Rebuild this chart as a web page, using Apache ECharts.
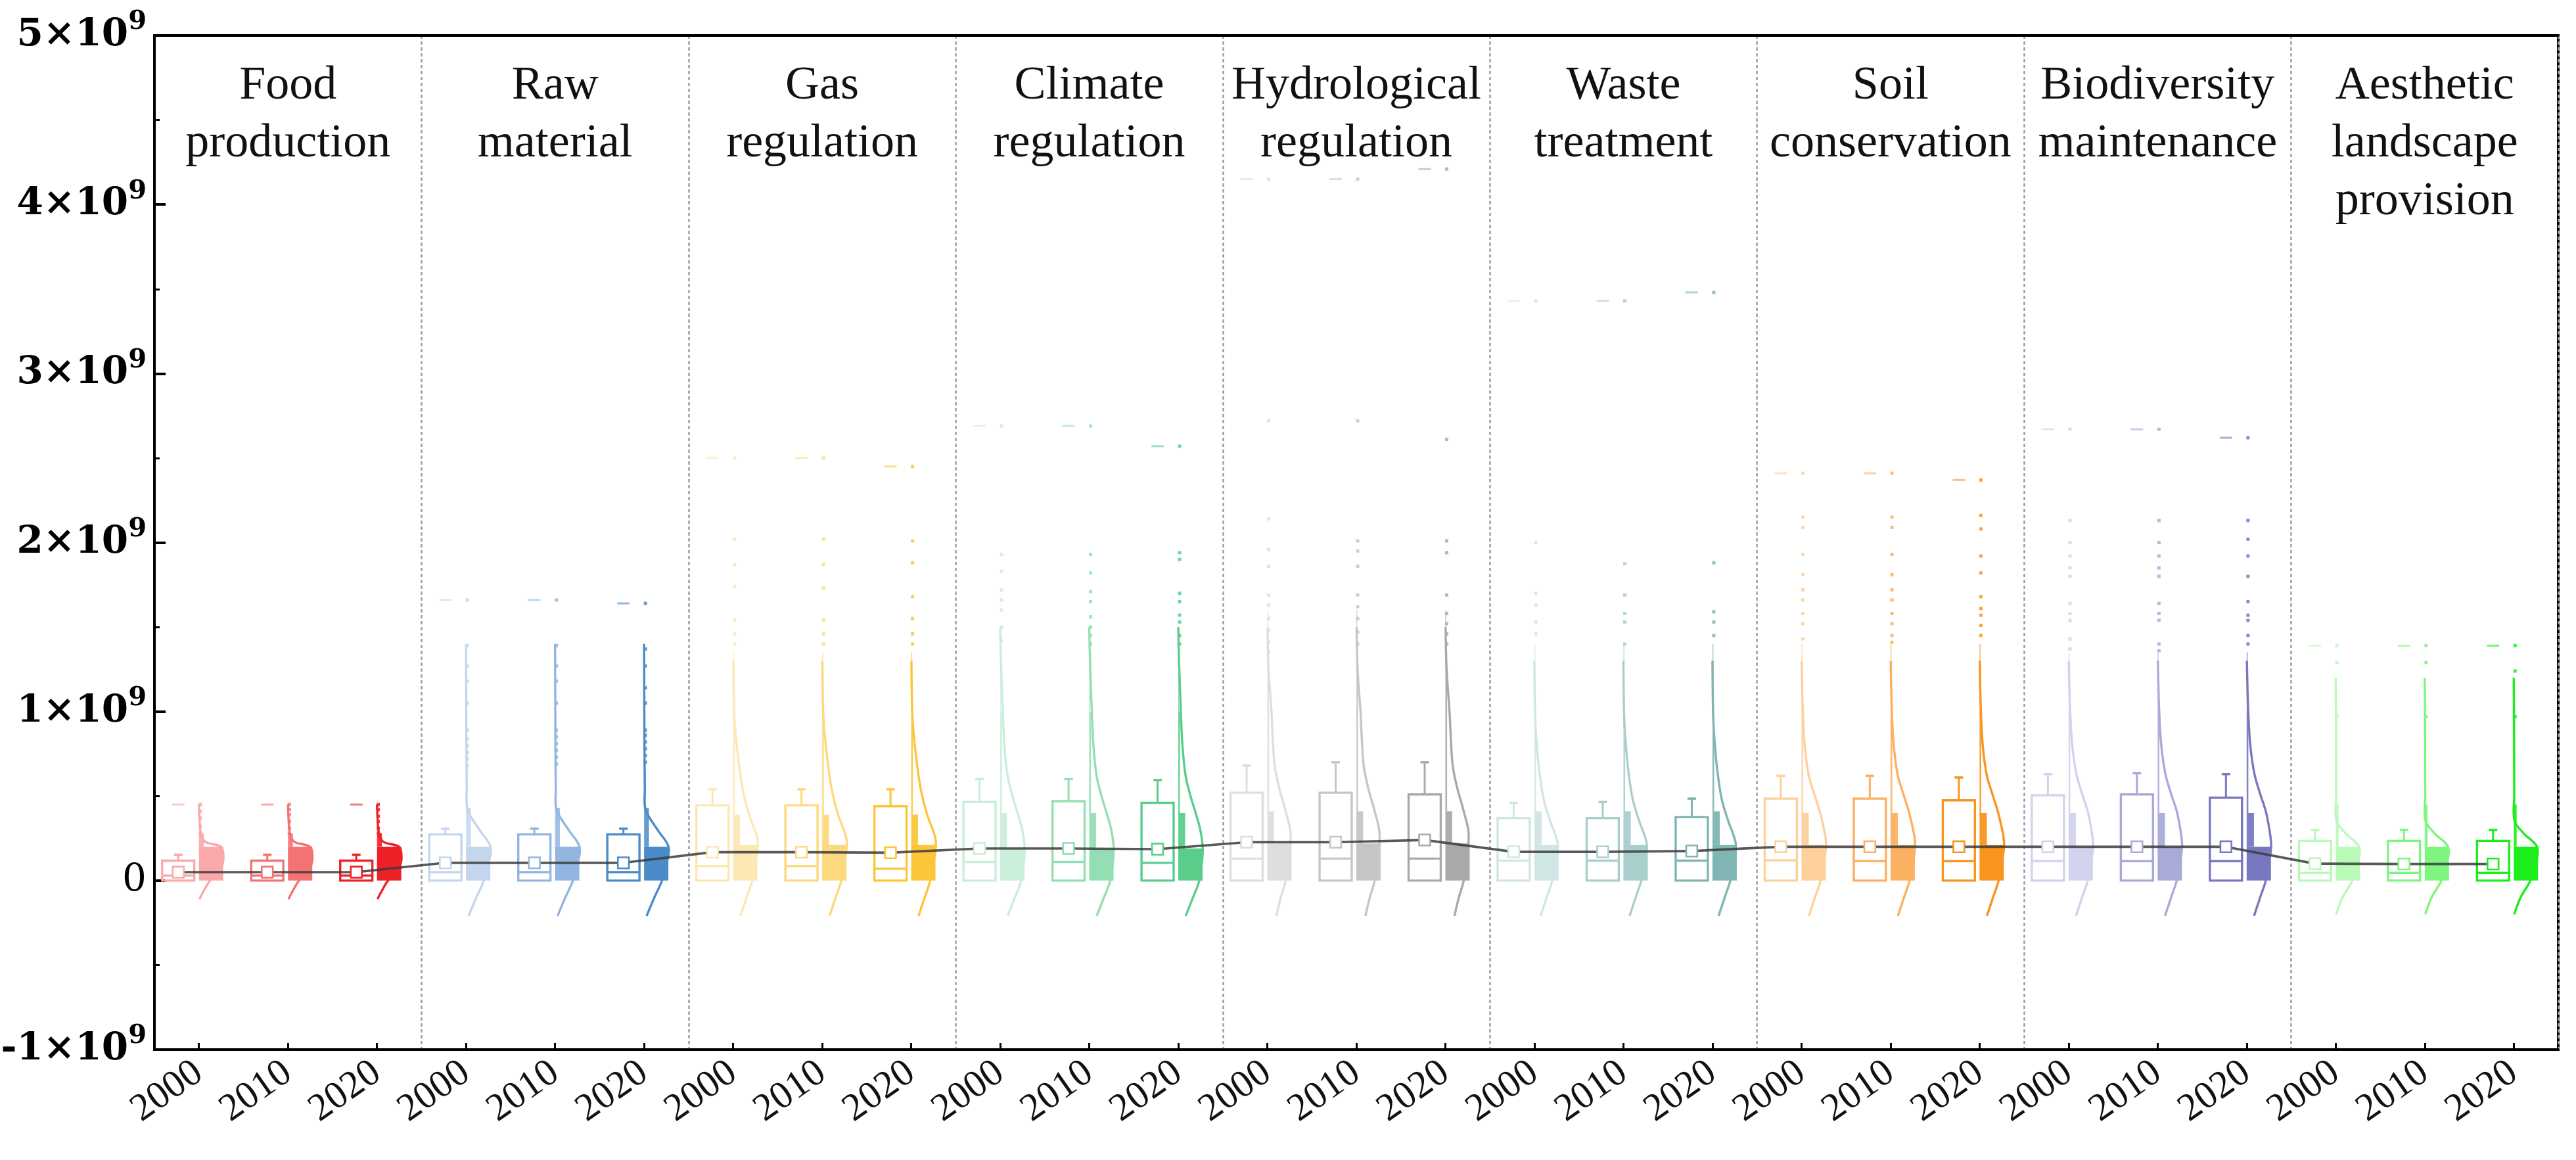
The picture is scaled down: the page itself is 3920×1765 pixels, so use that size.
<!DOCTYPE html>
<html><head><meta charset="utf-8">
<script src="https://cdn.jsdelivr.net/npm/echarts@6/dist/echarts.min.js"></script>
<style>html,body{margin:0;padding:0;background:#fff}#c{width:3920px;height:1765px}</style>
</head><body><div id="c"></div>
<script>
// ---------------- data (values in units of 1e9) ----------------
const groupNames = ['Food\nproduction','Raw\nmaterial','Gas\nregulation','Climate\nregulation','Hydrological\nregulation','Waste\ntreatment','Soil\nconservation','Biodiversity\nmaintenance','Aesthetic\nlandscape\nprovision'];
const years = ['2000','2010','2020'];
const groupColors = [
  ['#f9a9a9','#f47272','#ee2027'],
  ['#c3d6ee','#92b6e0','#4b8bc9'],
  ['#fde8b4','#fdd97d','#fcc63a'],
  ['#c9eed9','#93dfb3','#5bcd8b'],
  ['#dedede','#c6c6c6','#a9a9a9'],
  ['#d0e6e4','#a9cfcd','#7fb5b2'],
  ['#fdd09c','#fbb062','#f8951f'],
  ['#d2d2ee','#aaaada','#7878c0'],
  ['#b9fab9','#7ef57e','#1bee1b']
];
const yTickValues = [-1,0,1,2,3,4,5];
const yTickBase = ['-1\u00d710','0','1\u00d710','2\u00d710','3\u00d710','4\u00d710','5\u00d710'];
const yTickExp  = ['9','','9','9','9','9','9'];

const q1 = [0,0,0, 0,0,0, 0,0,0, 0,0,0, 0,0,0, 0,0,0, 0,0,0, 0,0,0, 0,0,0];
const q3 = [0.118,0.118,0.118, 0.273,0.273,0.273, 0.445,0.445,0.44, 0.465,0.47,0.46, 0.52,0.52,0.51, 0.37,0.37,0.375, 0.485,0.485,0.475, 0.505,0.51,0.49, 0.235,0.235,0.235];
const whiskerTop = [0.153,0.153,0.153, 0.307,0.307,0.307, 0.54,0.54,0.54, 0.6,0.6,0.595, 0.68,0.7,0.7, 0.46,0.465,0.485, 0.62,0.62,0.61, 0.63,0.635,0.63, 0.3,0.3,0.3];
const median = [0.03,0.03,0.03, 0.05,0.05,0.05, 0.086,0.086,0.07, 0.11,0.11,0.105, 0.13,0.13,0.13, 0.118,0.118,0.118, 0.12,0.115,0.115, 0.115,0.115,0.115, 0.045,0.045,0.045];
const mean = [0.05,0.05,0.05, 0.105,0.105,0.105, 0.168,0.168,0.165, 0.19,0.19,0.186, 0.227,0.227,0.24, 0.17,0.17,0.175, 0.2,0.2,0.2, 0.2,0.2,0.2, 0.1,0.098,0.098];
const maxVal = [0.45,0.45,0.45, 1.66,1.66,1.64, 2.50,2.50,2.45, 2.69,2.69,2.57, 4.15,4.15,4.21, 3.43,3.43,3.48, 2.41,2.41,2.37, 2.67,2.67,2.62, 1.39,1.39,1.39];
const outliers = [
  [0.45,0.41,0.37,0.32,0.28],[0.45,0.42,0.39,0.35,0.31,0.28],[0.45,0.42,0.38,0.35,0.31,0.28],
  [1.66,1.39,1.27,1.18,1.05,0.89,0.84,0.80,0.76,0.72,0.68],[1.66,1.39,1.27,1.18,1.05,0.89,0.85,0.81,0.77,0.73,0.69],[1.64,1.37,1.27,1.14,1.05,0.89,0.86,0.82,0.78,0.74,0.70],
  [2.50,2.02,1.87,1.74,1.54,1.46,1.40],[2.50,2.02,1.87,1.73,1.54,1.46,1.40],[2.45,2.01,1.88,1.68,1.55,1.46,1.40],
  [2.69,1.93,1.83,1.72,1.66,1.60,1.50,1.42],[2.69,1.93,1.82,1.71,1.65,1.56,1.50,1.45,1.40],[2.57,1.94,1.90,1.70,1.65,1.57,1.53,1.45,1.40],
  [4.15,2.72,2.14,1.96,1.86,1.69,1.63,1.55,1.48,1.41,1.35],[4.15,2.72,2.01,1.95,1.86,1.69,1.62,1.55,1.47,1.40],[4.21,2.61,2.01,1.94,1.69,1.58,1.52,1.46,1.40],
  [3.43,2.00,1.70,1.63,1.53,1.46],[3.43,1.875,1.69,1.58,1.53,1.40],[3.48,1.88,1.59,1.53,1.45],
  [2.41,2.15,2.09,1.93,1.81,1.72,1.66,1.58,1.52,1.43],[2.41,2.15,2.09,1.93,1.81,1.72,1.66,1.58,1.52,1.45,1.41],[2.37,2.16,2.08,1.92,1.82,1.68,1.61,1.57,1.51,1.45],
  [2.67,2.13,2.00,1.92,1.85,1.80,1.64,1.58,1.54,1.43,1.37],[2.67,2.13,2.00,1.92,1.85,1.80,1.64,1.58,1.54,1.40,1.36],[2.62,2.13,2.02,1.92,1.80,1.65,1.57,1.54,1.45,1.40],
  [1.39,1.29,0.97],[1.39,1.29,0.97],[1.39,1.24,0.97]
];
// half-violin profile per group: [value, relative density]
const violin = [
  [[-0.11,0.02],[-0.06,0.2],[0,0.45],[0.05,0.8],[0.1,0.97],[0.15,1.0],[0.2,0.9],[0.23,0.25],[0.28,0.08],[0.35,0.03],[0.45,0]],
  [[-0.21,0.1],[-0.1,0.42],[0,0.73],[0.1,0.92],[0.2,1.0],[0.3,0.55],[0.42,0.06],[0.55,0.03],[0.7,0.02],[1.0,0.01],[1.4,0]],
  [[-0.21,0.3],[-0.1,0.55],[0,0.78],[0.12,0.93],[0.24,1.0],[0.39,0.65],[0.5,0.45],[0.62,0.3],[0.8,0.15],[0.97,0.05],[1.3,0.01]],
  [[-0.21,0.3],[-0.1,0.6],[0,0.86],[0.1,0.96],[0.19,1.0],[0.3,0.9],[0.39,0.73],[0.5,0.5],[0.62,0.3],[0.8,0.17],[1.02,0.1],[1.3,0.03],[1.5,0]],
  [[-0.21,0.37],[-0.1,0.55],[0,0.75],[0.14,0.88],[0.28,0.95],[0.41,0.75],[0.55,0.48],[0.68,0.3],[0.85,0.22],[1.0,0.17],[1.25,0.05],[1.5,0.01]],
  [[-0.21,0.25],[-0.1,0.5],[0,0.73],[0.1,0.88],[0.22,0.95],[0.35,0.65],[0.48,0.38],[0.65,0.2],[0.8,0.1],[0.97,0.03],[1.3,0]],
  [[-0.21,0.3],[-0.1,0.55],[0,0.78],[0.12,0.93],[0.23,1.0],[0.39,0.78],[0.5,0.55],[0.62,0.3],[0.8,0.13],[1.02,0.05],[1.3,0.01]],
  [[-0.21,0.3],[-0.1,0.55],[0,0.78],[0.12,0.93],[0.22,1.0],[0.4,0.8],[0.5,0.58],[0.63,0.32],[0.8,0.15],[1.02,0.06],[1.3,0.01]],
  [[-0.2,0.02],[-0.1,0.28],[0,0.68],[0.1,0.9],[0.2,0.95],[0.28,0.4],[0.355,0.03],[0.5,0.02],[0.97,0.01],[1.2,0]]
];
// dense-point columns per group: [low, high, relative width, opacity]
const histBins = [
  [[0,0.2,1,1],[0.2,0.28,0.2,0.9]],
  [[0,0.2,1,1],[0.2,0.43,0.2,0.85],[0.43,0.65,0.06,0.9]],
  [[0,0.21,1,1],[0.21,0.39,0.28,0.95],[0.39,1.0,0.07,0.9],[1.0,1.35,0.04,0.7]],
  [[0,0.19,1,1],[0.19,0.4,0.28,0.95],[0.4,1.0,0.07,0.9],[1.0,1.38,0.04,0.7]],
  [[0,0.22,1,1],[0.22,0.41,0.28,0.95],[0.41,1.25,0.07,0.9],[1.25,1.6,0.04,0.7]],
  [[0,0.21,1,1],[0.21,0.41,0.3,0.95],[0.41,0.95,0.07,0.9],[0.95,1.4,0.04,0.7]],
  [[0,0.21,1,1],[0.21,0.4,0.3,0.95],[0.4,1.0,0.07,0.9],[1.0,1.4,0.04,0.7]],
  [[0,0.2,1,1],[0.2,0.4,0.3,0.95],[0.4,1.0,0.07,0.9],[1.0,1.35,0.04,0.7]],
  [[0,0.2,1,1],[0.2,0.45,0.12,0.9],[0.45,0.97,0.05,0.85]]
];

// ---------------- layout constants (fractions of a category slot) ----------------
const BOX_L = 0.413, BOX_R = 0.052, CAP_HALF = 0.048, MEAN_HALF = 0.062, MAXDASH_HALF = 0.07;
const HIST_W = 0.273, VIOLIN_W = 0.275, PT_OFF = 0.004;
const FONT = "'Liberation Serif','Times New Roman',serif";
const YFONT = "'DejaVu Serif',serif";

const xLabels = groupNames.flatMap(() => years);
const slotData = xLabels.map((_, i) => [i, mean[i]]);
const colorOf = i => groupColors[Math.floor(i / 3)][i % 3];

function geom(api, i) {
  const slot = api.size([1, 0])[0];
  const cx = api.coord([i, 0])[0];
  const bl = cx - BOX_L * slot, br = cx - BOX_R * slot;
  return { slot, cx, bl, br, bc: (bl + br) / 2 };
}

function renderSlot(params, api) {
  const i = api.value(0);
  const g = Math.floor(i / 3);
  const col = colorOf(i);
  const { slot, cx, bl, br, bc } = geom(api, i);
  const Y = v => api.coord([i, v])[1];
  const ch = [];
  ch.push({ type: 'polyline', shape: { points: violin[g].map(([v, d]) => [cx + VIOLIN_W * slot * d, Y(v)]), smooth: 0.35 },
    style: { stroke: col, fill: null, lineWidth: 3.4 } });
  histBins[g].forEach(([lo, hi, w, op]) => {
    ch.push({ type: 'rect', shape: { x: cx, y: Y(hi), width: HIST_W * slot * w, height: Y(lo) - Y(hi) },
      style: { fill: col, opacity: op } });
  });
  outliers[i].forEach(v => {
    ch.push({ type: 'rect', shape: { x: cx + PT_OFF * slot - 1, y: Y(v) - 2.5, width: 5, height: 5 }, style: { fill: col, opacity: 0.85 } });
  });
  ch.push({ type: 'rect', shape: { x: bl, y: Y(q3[i]), width: br - bl, height: Y(q1[i]) - Y(q3[i]) },
    style: { stroke: col, fill: null, lineWidth: 3.4 } });
  ch.push({ type: 'line', shape: { x1: bl, y1: Y(median[i]), x2: br, y2: Y(median[i]) }, style: { stroke: col, lineWidth: 3.4 } });
  ch.push({ type: 'line', shape: { x1: bc, y1: Y(q3[i]), x2: bc, y2: Y(whiskerTop[i]) }, style: { stroke: col, lineWidth: 3 } });
  ch.push({ type: 'line', shape: { x1: bc - CAP_HALF * slot, y1: Y(whiskerTop[i]), x2: bc + CAP_HALF * slot, y2: Y(whiskerTop[i]) }, style: { stroke: col, lineWidth: 3.5 } });
  ch.push({ type: 'line', shape: { x1: bc - MAXDASH_HALF * slot, y1: Y(maxVal[i]), x2: bc + MAXDASH_HALF * slot, y2: Y(maxVal[i]) }, style: { stroke: col, lineWidth: 3, opacity: 0.6 } });
  return { type: 'group', children: ch };
}

function renderMeanLine(params, api) {
  const i = api.value(0);
  if (i >= xLabels.length - 1) return null;
  const a = geom(api, i), b = geom(api, i + 1);
  return { type: 'line', shape: { x1: a.bc, y1: api.coord([i, mean[i]])[1], x2: b.bc, y2: api.coord([i + 1, mean[i + 1]])[1] },
    style: { stroke: 'rgba(60,60,60,0.85)', lineWidth: 3.6 } };
}

function renderMeanBox(params, api) {
  const i = api.value(0);
  const { slot, bc } = geom(api, i);
  const y = api.coord([i, mean[i]])[1];
  const h = MEAN_HALF * slot;
  return { type: 'rect', shape: { x: bc - h, y: y - h, width: 2 * h, height: 2 * h },
    style: { fill: '#fff', stroke: colorOf(i), lineWidth: 2.6 } };
}

const chart = echarts.init(document.getElementById('c'));
chart.setOption({
  animation: false,
  backgroundColor: '#fff',
  grid: { left: 235, right: 27, top: 54, bottom: 168, show: true, borderColor: '#000', borderWidth: 4, containLabel: false, outerBoundsMode: 'none' },
  xAxis: [
    {
      type: 'category', data: xLabels, boundaryGap: true, position: 'bottom',
      axisLine: { show: true, onZero: false, lineStyle: { color: '#000', width: 4 } },
      axisTick: { show: true, inside: true, alignWithLabel: true, length: 10, lineStyle: { color: '#000', width: 3 } },
      splitLine: { show: true, interval: (idx) => idx > 0 && idx % 3 === 0, lineStyle: { color: '#9d9d9d', width: 2.5, type: [5, 4] } },
      axisLabel: { interval: 0, rotate: 35, fontFamily: FONT, fontSize: 59, color: '#111', margin: 30, align: 'right', verticalAlign: 'middle' }
    },
    {
      type: 'category', data: groupNames, position: 'top', boundaryGap: true,
      axisLine: { show: true, onZero: false, lineStyle: { color: '#000', width: 4 } },
      axisTick: { show: false }, splitLine: { show: false },
      axisLabel: { inside: true, interval: 0, margin: 33, fontFamily: FONT, fontSize: 72, lineHeight: 88, color: '#111', verticalAlign: 'top' }
    }
  ],
  yAxis: {
    type: 'value', min: -1, max: 5, interval: 1,
    axisLine: { show: true, onZero: false, lineStyle: { color: '#000', width: 4 } },
    axisTick: { show: true, inside: true, length: 17, lineStyle: { color: '#000', width: 4 } },
    minorTick: { show: true, splitNumber: 2, length: 8, lineStyle: { color: '#000', width: 3 } },
    splitLine: { show: false },
    axisLabel: {
      margin: 12,
      formatter: v => {
        const k = yTickValues.indexOf(Math.round(v));
        if (k < 0) return '';
        return yTickExp[k] ? '{b|' + yTickBase[k] + '}{s|' + yTickExp[k] + '}' : '{n|' + yTickBase[k] + '}';
      },
      rich: {
        b: { fontFamily: YFONT, fontWeight: 'bold', fontSize: 58, lineHeight: 80, color: '#000' },
        s: { fontFamily: YFONT, fontWeight: 'bold', fontSize: 40, lineHeight: 42, verticalAlign: 'top', color: '#000' },
        n: { fontFamily: YFONT, fontSize: 58, lineHeight: 80, color: '#000' }
      }
    }
  },
  series: [
    { type: 'custom', name: 'distribution', xAxisIndex: 0, data: slotData, encode: { x: 0, y: 1 }, renderItem: renderSlot, clip: false, z: 2 },
    { type: 'custom', name: 'mean line', xAxisIndex: 0, data: slotData, encode: { x: 0, y: 1 }, renderItem: renderMeanLine, clip: false, z: 3 },
    { type: 'custom', name: 'mean', xAxisIndex: 0, data: slotData, encode: { x: 0, y: 1 }, renderItem: renderMeanBox, clip: false, z: 4 }
  ]
});
</script></body></html>
